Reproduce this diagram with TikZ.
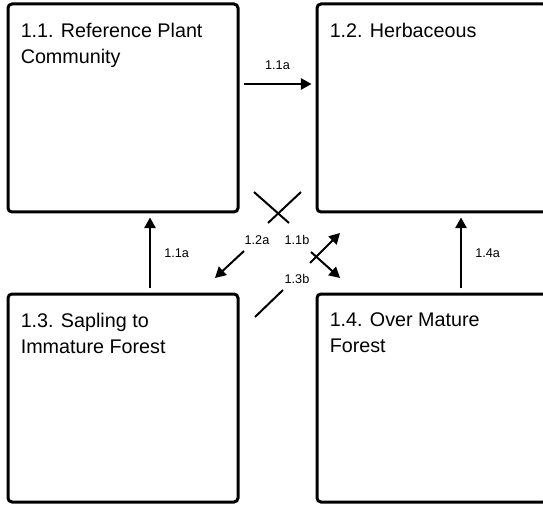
\documentclass[tikz,border=0pt]{standalone}
\usepackage{fontspec}
\setmainfont{Liberation Sans}
\usetikzlibrary{arrows.meta,positioning}

\tikzset{
    statebox/.style={draw, line width=2.25pt, rounded corners=3pt, minimum width=172.5pt, minimum height=156pt, inner sep=0pt},
    boxtitle/.style={anchor=north west, align=left, inner sep=0pt, font=\fontsize{14.8}{19.5}\selectfont},
    trans/.style={line width=1.5pt, -{Triangle[length=8pt,width=8.5pt]}, shorten <=3pt, shorten >=3pt},
    seg/.style={line width=1.5pt},
    tlabel/.style={font=\fontsize{9.5}{11}\selectfont, inner sep=1pt}
}

\begin{document}
\begin{tikzpicture}[x=0.75pt, y=-0.75pt]
    \useasboundingbox (0,0) rectangle (543,506);

    % Draw the four state boxes
        \node[statebox] (b11) at (123,108) {};
        \node[statebox] (b12) at (432,108) {};
        \node[statebox] (b13) at (123,398) {};
        \node[statebox] (b14) at (432,398) {};

        % Box titles
        \node[boxtitle] (t11) at ([xshift=10.5pt, yshift=-15pt]b11.north west) {1.1. Reference Plant\\Community};
        \node[boxtitle] (t12) at ([xshift=10.5pt, yshift=-15pt]b12.north west) {1.2. Herbaceous};
        \node[boxtitle] (t13) at ([xshift=10.5pt, yshift=-15pt]b13.north west) {1.3. Sapling to\\Immature Forest};
        \node[boxtitle] (t14) at ([xshift=10.5pt, yshift=-15pt]b14.north west) {1.4. Over Mature\\Forest};

        % Straight transitions between neighbouring boxes
        \draw[trans] ([yshift=18pt]b11.east) -- node[tlabel, above=9pt] (l11a) {1.1a} ([yshift=18pt]b12.west);
        \draw[trans] ([xshift=20.25pt]b13.north) -- node[tlabel, right=9pt] (l13a) {1.1a} ([xshift=20.25pt]b11.south);
        \draw[trans] ([xshift=21.75pt]b14.north) -- node[tlabel, right=9pt] (l14a) {1.4a} ([xshift=21.75pt]b12.south);

        % Diagonal pieces in the middle
        \coordinate (x1a) at (254,192);
        \coordinate (x1b) at (289,223);
        \coordinate (x2a) at (301,192);
        \coordinate (x2b) at (268,223);
        \draw[seg] (x1a) -- (x1b);
        \draw[seg] (x2a) -- (x2b);

        \coordinate (d12a) at (244,251);
        \coordinate (e12a) at (215,278);
        \draw[trans, shorten <=0pt, shorten >=0pt] (d12a) -- (e12a);
        \node[tlabel] (l12a) at (257,240) {1.2a};

        \coordinate (d11b) at (310,263);
        \coordinate (e11b) at (340,233);
        \coordinate (f11b) at (311,252);
        \coordinate (g11b) at (340,278);
        \draw[trans, shorten <=0pt, shorten >=0pt] (d11b) -- (e11b);
        \draw[trans, shorten <=0pt, shorten >=0pt] (f11b) -- (g11b);
        \node[tlabel] (l11b) at (297,240) {1.1b};

        \coordinate (d13b) at (283,290);
        \coordinate (e13b) at (255,317);
        \draw[seg] (d13b) -- (e13b);
        \node[tlabel] (l13b) at (297,279) {1.3b};
\end{tikzpicture}
\end{document}
